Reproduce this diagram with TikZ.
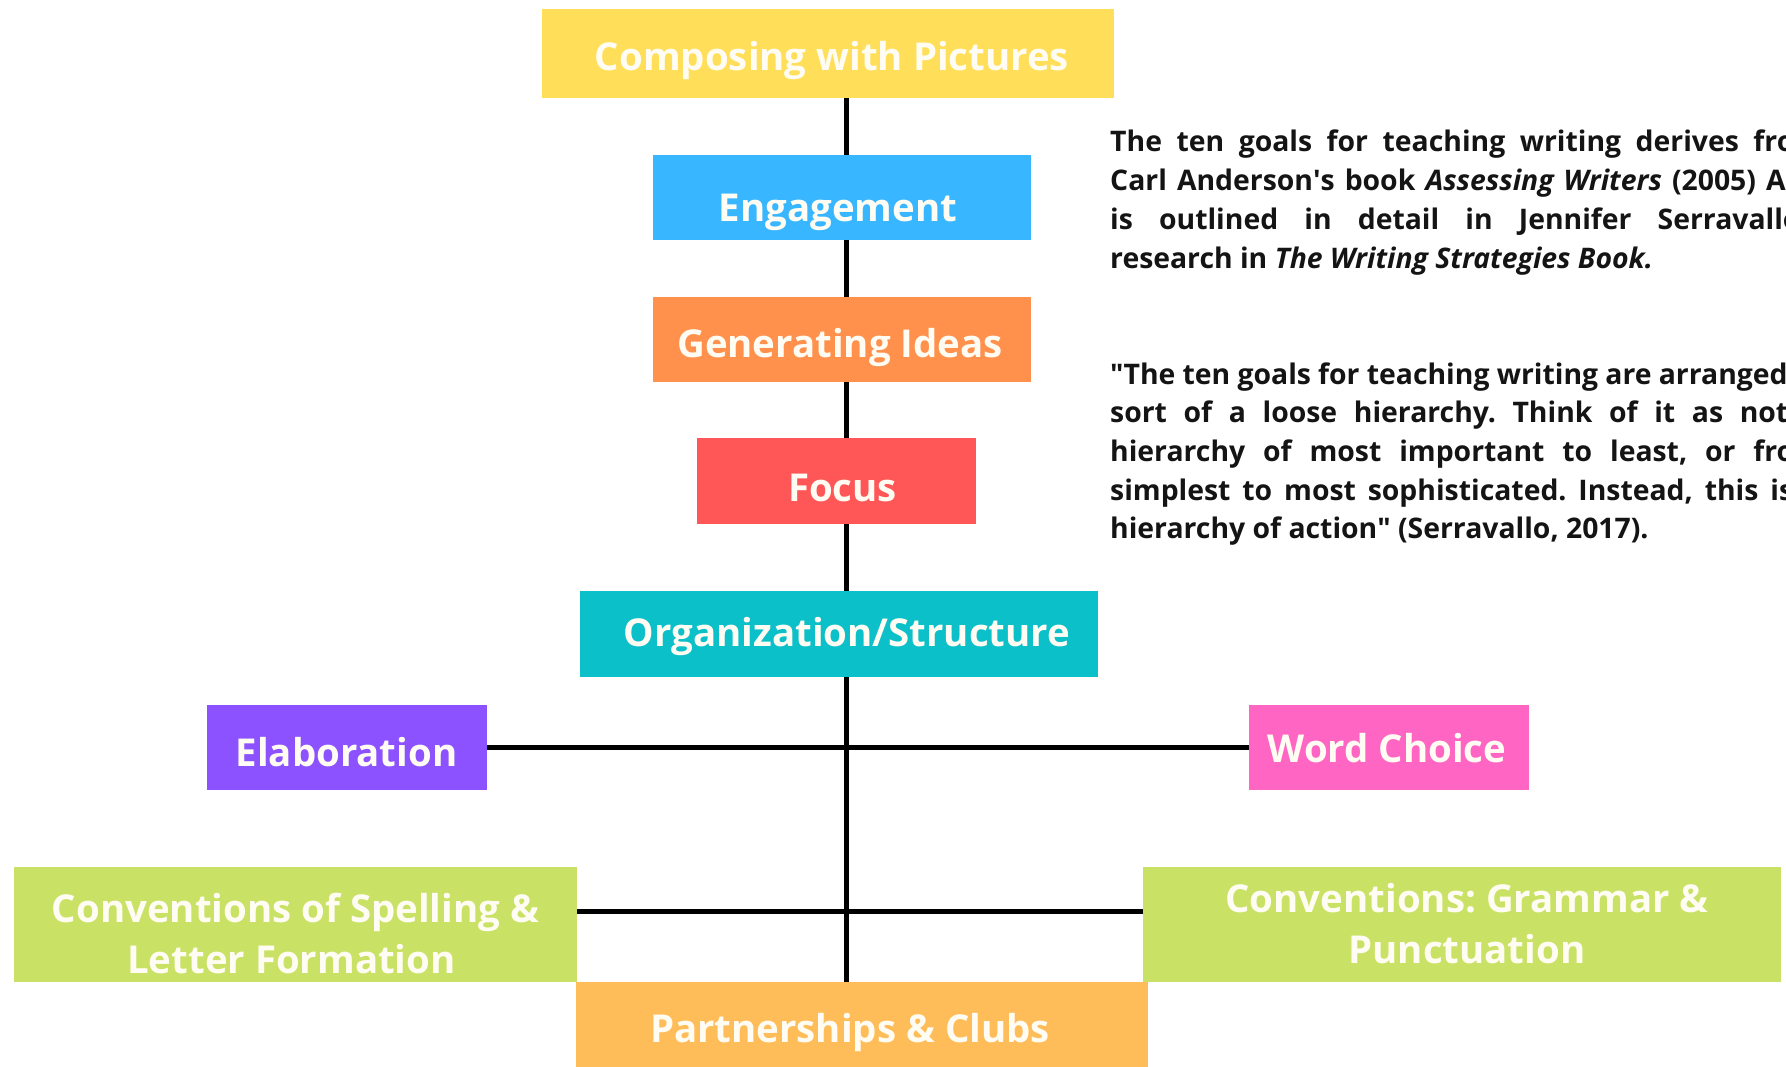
\documentclass[tikz,border=0pt]{standalone}
\usepackage{fontspec}
\setmainfont{Open Sans}
\definecolor{cyellow}{HTML}{FFDE59}
\definecolor{cblue}{HTML}{38B6FF}
\definecolor{corange}{HTML}{FF914D}
\definecolor{cred}{HTML}{FF5757}
\definecolor{cteal}{HTML}{0CC0C9}
\definecolor{cpurple}{HTML}{8C52FF}
\definecolor{cpink}{HTML}{FF66C4}
\definecolor{cgreen}{HTML}{C9E265}
\definecolor{cpeach}{HTML}{FFBD59}
\definecolor{boxtext}{HTML}{FFFDF3}
\definecolor{ink}{HTML}{141414}
\newcommand\parW{712pt}
% box text: #1 = x shift, #2 = baseline below box centre, #3 = text
\newcommand\bt[3]{\makebox[0pt]{\hspace*{#1pt}\hspace*{#1pt}\raisebox{-#2pt}[0pt][0pt]{#3}}}
\newcommand\twolines[2]{\begin{tabular}[t]{@{}c@{}}#1\\#2\end{tabular}}
\frenchspacing
\begin{document}
\begin{tikzpicture}[x=1pt,y=-1pt,
  box/.style={rectangle, inner sep=0pt, text=boxtext,
    font=\fontsize{38.4}{51}\bfseries\selectfont},
  conn/.style={line width=5pt, draw=black},
  para/.style={anchor=base west, inner sep=0pt, text=ink,
    font=\fontsize{28.35}{38.7}\bfseries\selectfont\frenchspacing}]
\useasboundingbox[fill=white] (0,0) rectangle (1786,1067);
% nodes
\node[box, fill=cyellow, minimum width=572pt, minimum height=89pt] (comp) at (828,53.5) {\bt{4}{17}{Composing with Pictures}};
\node[box, fill=cblue, minimum width=378pt, minimum height=85pt] (eng) at (842,197.5) {\bt{-4}{24}{Engagement}};
\node[box, fill=corange, minimum width=378pt, minimum height=85pt] (gen) at (842,339.5) {\bt{-2}{18.5}{Generating Ideas}};
\node[box, fill=cred, minimum width=279pt, minimum height=86pt] (focus) at (836.5,481) {\bt{6}{20.5}{Focus}};
\node[box, fill=cteal, minimum width=518pt, minimum height=86pt] (org) at (839,634) {\bt{8}{12}{Organization/Structure}};
\node[box, fill=cpurple, minimum width=280pt, minimum height=85pt] (elab) at (346.5,747.5) {\bt{0}{19}{Elaboration}};
\node[box, fill=cpink, minimum width=280pt, minimum height=85pt] (word) at (1389,747.5) {\bt{-2}{14.5}{Word Choice}};
\node[box, fill=cgreen, minimum width=563pt, minimum height=115pt] (convL) at (295.5,924.5) {\bt{0}{-2}{\twolines{Conventions of Spelling \&}{Letter Formation\hspace*{8pt}}}};
\node[box, fill=cgreen, minimum width=638pt, minimum height=115pt] (convR) at (1462,924.5) {\bt{5}{-12}{\twolines{Conventions: Grammar \&}{Punctuation}}};
\node[box, fill=cpeach, minimum width=572pt, minimum height=85pt] (part) at (862,1024.5) {\bt{-12}{17.5}{Partnerships \& Clubs}};
% connectors
\coordinate (spine) at (846,0);
\coordinate (hl) at (0,911);
\draw[conn] (comp.south -| spine) -- (eng.north -| spine);
\draw[conn] (eng.south -| spine) -- (gen.north -| spine);
\draw[conn] (gen.south -| spine) -- (focus.north -| spine);
\draw[conn] (focus.south -| spine) -- (org.north -| spine);
\draw[conn] (org.south -| spine) -- (part.north -| spine);
\draw[conn] (elab.east) -- (word.west);
\draw[conn] (convL.east |- hl) -- (convR.west |- hl);
% paragraph text
\begin{scope}
\clip (0,0) rectangle (1786,1067);
\node[para] (p1a) at (1110,152) {\makebox[\parW][s]{The ten goals for teaching writing derives from}};
\node[para] (p1b) at (1110,190.7) {\makebox[\parW][s]{Carl Anderson\textquotesingle s book \textit{Assessing Writers} (2005) And}};
\node[para] (p1c) at (1110,229.4) {\makebox[\parW][s]{is outlined in detail in Jennifer Serravallo\textquotesingle s}};
\node[para] (p1d) at (1110,268.1) {research in \textit{The Writing Strategies Book.}};
\node[para] (p2a) at (1110,384) {\makebox[\parW][s]{\textquotedbl The ten goals for teaching writing are arranged in}};
\node[para] (p2b) at (1110,422.7) {\makebox[\parW][s]{sort of a loose hierarchy. Think of it as not a}};
\node[para] (p2c) at (1110,461.4) {\makebox[\parW][s]{hierarchy of most important to least, or from}};
\node[para] (p2d) at (1110,500.1) {\makebox[\parW][s]{simplest to most sophisticated. Instead, this is a}};
\node[para] (p2e) at (1110,538.8) {hierarchy of action\textquotedbl{} (Serravallo, 2017).};
\end{scope}
\end{tikzpicture}
\end{document}
